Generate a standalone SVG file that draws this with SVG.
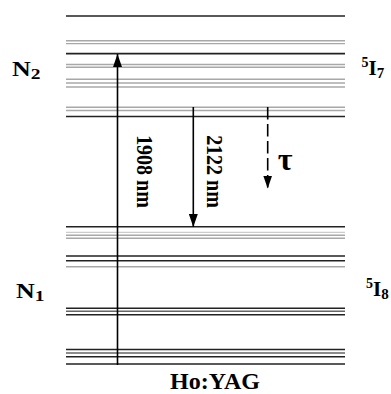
<svg xmlns="http://www.w3.org/2000/svg" width="391" height="394" viewBox="0 0 391 394">
<style>
.lv line{stroke-width:1.4}
.d{stroke:#222}
.g{stroke:#a8a8a8}
.m{stroke:#666}
.t{font-family:"Liberation Serif","Times New Roman",serif;font-weight:bold;fill:#000}
.ar{stroke:#000;stroke-width:1.6;fill:none}
</style>
<defs>
<marker id="ah2" viewBox="0 0 13 9" refX="13" refY="4.5" markerWidth="13" markerHeight="9" markerUnits="userSpaceOnUse" orient="auto">
<path d="M0,0 L13,4.5 L0,9 Z" fill="#000"/>
</marker>
</defs>
<rect width="391" height="394" fill="#fff"/>
<g id="levels" class="lv">
<line class="d" x1="66" y1="16" x2="345" y2="16"/>
<line class="g" x1="66" y1="40.7" x2="345" y2="40.7"/>
<line class="g" x1="66" y1="43.6" x2="345" y2="43.6"/>
<line class="d" x1="66" y1="53.7" x2="345" y2="53.7" style="stroke-width:1.8"/>
<line class="g" x1="66" y1="64.5" x2="345" y2="64.5"/>
<line class="g" x1="66" y1="67.3" x2="345" y2="67.3"/>
<line class="g" x1="66" y1="79.3" x2="345" y2="79.3"/>
<line class="g" x1="66" y1="83" x2="345" y2="83"/>
<line class="g" x1="66" y1="87" x2="345" y2="87"/>
<line class="g" x1="66" y1="107.3" x2="345" y2="107.3"/>
<line class="g" x1="66" y1="110.5" x2="345" y2="110.5"/>
<line class="d" x1="66" y1="116.5" x2="345" y2="116.5"/>
<line class="d" x1="66" y1="226.7" x2="345" y2="226.7"/>
<line class="g" x1="66" y1="232.4" x2="345" y2="232.4" style="stroke:#ccc"/>
<line class="g" x1="66" y1="235.3" x2="345" y2="235.3"/>
<line class="g" x1="66" y1="238.3" x2="345" y2="238.3"/>
<line class="d" x1="66" y1="256" x2="345" y2="256"/>
<line class="d" x1="66" y1="260.7" x2="345" y2="260.7"/>
<line class="g" x1="66" y1="266.8" x2="345" y2="266.8"/>
<line class="d" x1="66" y1="308.3" x2="345" y2="308.3"/>
<line class="m" x1="66" y1="311.3" x2="345" y2="311.3"/>
<line class="d" x1="66" y1="314.7" x2="345" y2="314.7"/>
<line class="d" x1="66" y1="349.5" x2="345" y2="349.5"/>
<line class="m" x1="66" y1="353" x2="345" y2="353"/>
<line class="d" x1="66" y1="356.8" x2="345" y2="356.8"/>
<line class="d" x1="66" y1="364" x2="345" y2="364"/>
</g>
<g id="connectors">
<line class="ar" x1="117.5" y1="365" x2="117.5" y2="54" marker-end="url(#ah2)"/>
<line class="ar" x1="193.3" y1="107" x2="193.3" y2="227" marker-end="url(#ah2)"/>
<line class="ar" x1="267.7" y1="107" x2="267.7" y2="188.5" stroke-dasharray="12.5,4.5" marker-end="url(#ah2)"/>
</g>
<g id="label-1908">
<text class="t" font-size="20" transform="translate(137,171.5) rotate(90) scale(1,1.2)" text-anchor="middle">1908 nm</text>
</g>
<g id="label-2122">
<text class="t" font-size="20" transform="translate(207,171.5) rotate(90) scale(1,1.2)" text-anchor="middle">2122 nm</text>
</g>
<g id="label-tau">
<text class="t" font-size="32" x="285" y="170" text-anchor="middle">τ</text>
</g>
<g id="label-N2">
<text class="t" font-size="20" x="12" y="76" transform="translate(12,76) scale(1.3,1) translate(-12,-76)">N<tspan font-size="15" dy="3">2</tspan></text>
</g>
<g id="label-N1">
<text class="t" font-size="20" x="16" y="298" transform="translate(16,298) scale(1.3,1) translate(-16,-298)">N<tspan font-size="15" dy="3">1</tspan></text>
</g>
<g id="label-5I7">
<text class="t" font-size="21" x="361.5" y="75"><tspan font-size="14" dy="-8">5</tspan><tspan dy="8">I</tspan><tspan font-size="15" dy="3">7</tspan></text>
</g>
<g id="label-5I8">
<text class="t" font-size="21" x="366" y="296"><tspan font-size="14" dy="-8">5</tspan><tspan dy="8">I</tspan><tspan font-size="15" dy="3">8</tspan></text>
</g>
<g id="title">
<text class="t" font-size="24" x="215" y="389" text-anchor="middle">Ho:YAG</text>
</g>
</svg>
